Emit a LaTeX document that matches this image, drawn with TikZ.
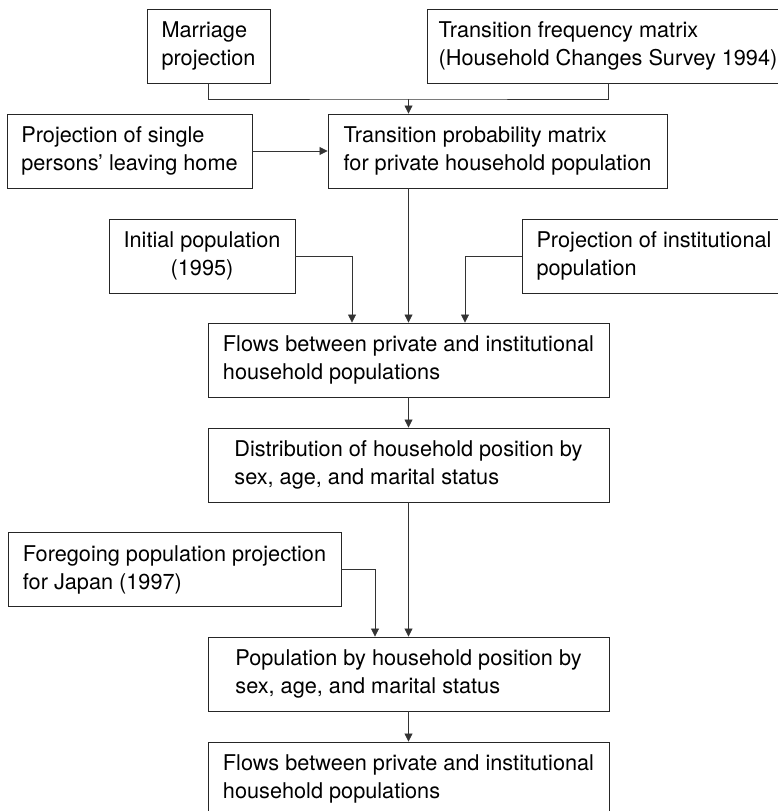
\documentclass[tikz,border=0pt]{standalone}
\usepackage{fontspec}
\setmainfont{TeX Gyre Heros}
\usetikzlibrary{arrows.meta}
\tikzset{
  box/.style={draw=black!85,line width=0.9pt,align=left,minimum height=74pt,inner sep=0pt,
    font=\fontsize{21.7}{28}\selectfont},
  link/.style={draw=black!80,line width=0.8pt},
  arr/.style={link,-{Triangle[length=8pt,width=8pt]}}
}
\begin{document}
\begin{tikzpicture}[x=1pt,y=-1pt]
  \useasboundingbox (0,0) rectangle (778,811);
  \node[box,minimum width=123pt] (marriage) at (208.5,46) {Marriage\\projection};
  \node[box,minimum width=362pt] (freq) at (608,46) {Transition frequency matrix\\(Household Changes Survey 1994)};
  \node[box,minimum width=245pt] (leaving) at (129.5,151) {Projection of single\\persons’ leaving home};
  \node[box,minimum width=339pt] (prob) at (497.5,151) {Transition probability matrix\\for private household population};
  \node[box,align=center,minimum width=186pt] (initial) at (202,256) {Initial population\\(1995)};
  \node[box,minimum width=264pt] (inst) at (654,256) {Projection of institutional\\population};
  \node[box,minimum width=401pt] (flows) at (408.5,360) {Flows between private and institutional\\household populations};
  \node[box,minimum width=401pt] (distr) at (408.5,465) {Distribution of household position by\\sex, age, and marital status};
  \node[box,minimum width=333pt] (japan) at (174.5,569.5) {Foregoing population projection\\for Japan (1997)};
  \node[box,minimum width=401pt] (popby) at (408.5,674) {Population by household position by\\sex, age, and marital status};
  \node[box,minimum width=401pt] (flowsb) at (408.5,779) {Flows between private and institutional\\household populations};
  \coordinate (join) at (408.5,99);
  \draw[link] (marriage.south) |- (join) -| (freq.south);
  \draw[arr] (join) -- (join |- prob.north);
  \draw[arr] (leaving.east) -- (prob.west);
  \draw[arr] (prob.south -| flows.north) -- (flows.north);
  \draw[arr] (initial.east) -| ([xshift=-56.5pt]flows.north);
  \draw[arr] (inst.west) -| ([xshift=56.5pt]flows.north);
  \draw[arr] (flows.south) -- (distr.north);
  \draw[arr] (distr.south) -- (popby.north);
  \draw[arr] (japan.east) -| ([xshift=-33.5pt]popby.north);
  \draw[arr] (popby.south) -- (flowsb.north);
\end{tikzpicture}
\end{document}
